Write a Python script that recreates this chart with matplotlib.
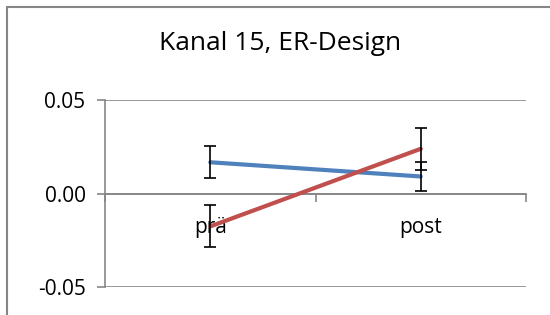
import matplotlib.pyplot as plt
from matplotlib.patches import Rectangle

# data
categories = ['prä', 'post']
blue_values = [0.0167, 0.0091]
blue_errors = [0.0085, 0.0077]
red_values = [-0.0176, 0.0239]
red_errors = [0.0112, 0.0112]
y_ticks = [-0.05, 0.00, 0.05]

plt.rcParams['font.family'] = ['Open Sans', 'DejaVu Sans']

fig = plt.figure(figsize=(5.5, 3.15), dpi=100)
ax = fig.add_axes([105 / 550, 1 - 287 / 315, 421 / 550, 187 / 315])

grey = '#868686'
x = list(range(1, len(categories) + 1))

# lines first, error bars on top
ax.plot(x, blue_values, color='#4F81BD', lw=3, solid_capstyle='round', zorder=3)
ax.plot(x, red_values, color='#C0504D', lw=3, solid_capstyle='round', zorder=4)
ax.errorbar(x, blue_values, yerr=blue_errors, fmt='none', ecolor='black',
            elinewidth=1.2, capsize=4, capthick=1.2, zorder=5)
ax.errorbar(x, red_values, yerr=red_errors, fmt='none', ecolor='black',
            elinewidth=1.2, capsize=4, capthick=1.2, zorder=5)

ax.set_xlim(0.5, len(categories) + 0.5)
ax.set_ylim(y_ticks[0], y_ticks[-1])
ax.set_yticks(y_ticks)
ax.set_yticklabels([f'{v:.2f}' for v in y_ticks])
ax.yaxis.grid(True, color=grey, lw=1.2)
ax.set_axisbelow(True)
ax.tick_params(axis='y', length=6, width=1.2, color=grey, pad=8, labelsize=15)

# category axis sits on y = 0, ticks between categories
ax.set_xticks([i + 0.5 for i in range(len(categories) + 1)])
ax.set_xticklabels([])
ax.set_xticks(x, minor=True)
ax.set_xticklabels(categories, minor=True)
ax.tick_params(axis='x', which='major', length=6, width=1.2, color=grey, direction='out')
ax.tick_params(axis='x', which='minor', length=0, pad=17, labelsize=15)

ax.spines['bottom'].set_position(('data', 0))
for side in ['top', 'right']:
    ax.spines[side].set_visible(False)
for side in ['left', 'bottom']:
    ax.spines[side].set_color(grey)
    ax.spines[side].set_linewidth(1.2)

fig.text(280 / 550, 1 - 44 / 315, 'Kanal 15, ER-Design', ha='center', va='center', fontsize=19)

# outer chart border (right and bottom run off the image)
fig.patches.append(Rectangle((7 / 550, -0.1), 1.2, 1.1 - 7 / 315, transform=fig.transFigure,
                             fill=False, edgecolor=grey, lw=1.5))

fig.savefig('out.png', dpi=100)
